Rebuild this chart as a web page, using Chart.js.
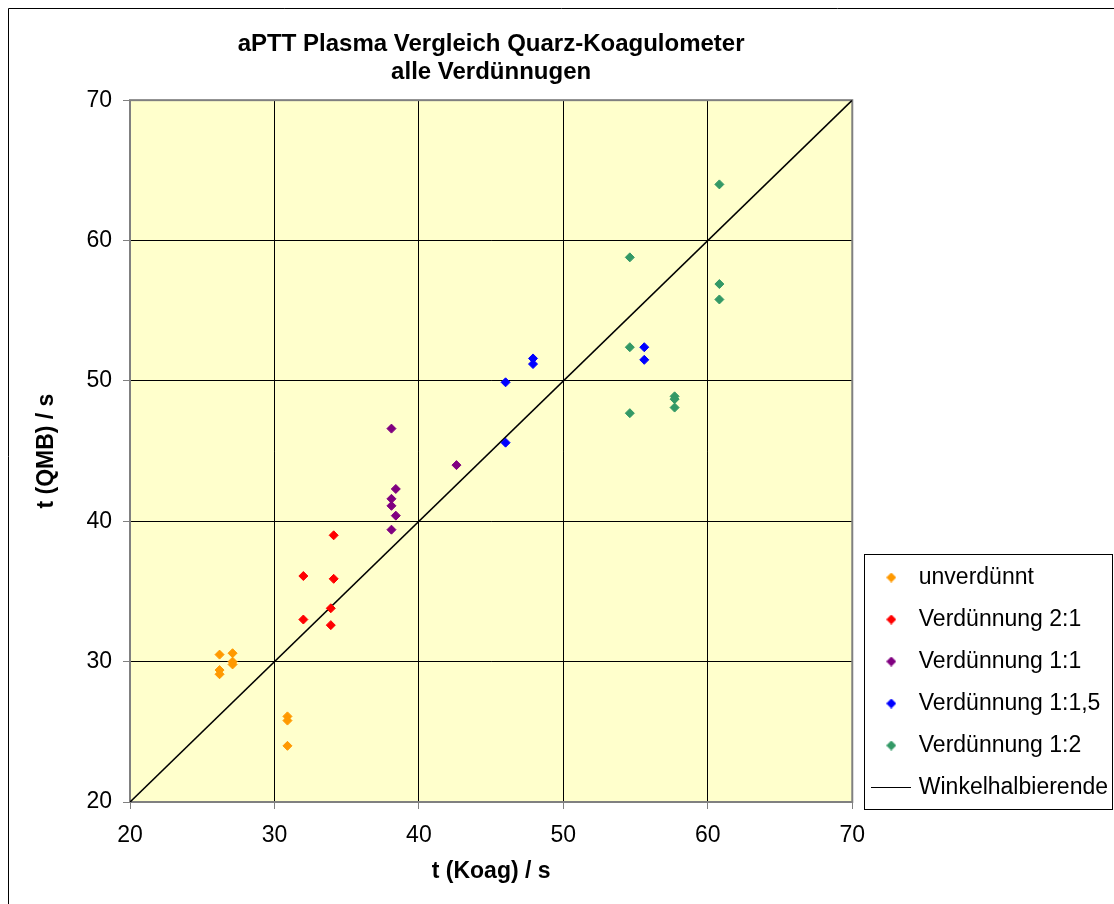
<!DOCTYPE html>
<html>

<head>
    <meta charset="utf-8">
    <title>aPTT Plasma Vergleich</title>
    <!-- Chart JS -->
    <script src="https://cdn.jsdelivr.net/npm/chart.js@4.4.1/dist/chart.umd.min.js"></script>
    <style>
        body { margin: 0; background: #ffffff; }
        canvas { display: block; }
    </style>
</head>

<body>
    <canvas id="myChart" width="1114" height="904"></canvas>
    <script>

        var chartTitle = ['aPTT Plasma Vergleich Quarz-Koagulometer', 'alle Verdünnugen'];
        var xTitle = 't (Koag) / s';
        var yTitle = 't (QMB) / s';

        // unverdünnt
        var unvX = [26.2, 27.1, 27.1, 27.1, 26.2, 26.2, 30.9, 30.9, 30.9];
        var unvY = [30.5, 30.6, 30.0, 29.8, 29.4, 29.1, 26.1, 25.8, 24.0];
        // Verdünnung 2:1
        var v21X = [34.1, 32.0, 34.1, 33.9, 32.0, 33.9];
        var v21Y = [39.0, 36.1, 35.9, 33.8, 33.0, 32.6];
        // Verdünnung 1:1
        var v11X = [38.1, 38.4, 38.1, 38.1, 38.4, 38.1, 42.6];
        var v11Y = [46.6, 42.3, 41.6, 41.1, 40.4, 39.4, 44.0];
        // Verdünnung 1:1,5
        var v115X = [46.0, 47.9, 47.9, 46.0, 55.6, 55.6];
        var v115Y = [49.9, 51.6, 51.2, 45.6, 52.4, 51.5];
        // Verdünnung 1:2
        var v12X = [54.6, 54.6, 54.6, 57.7, 57.7, 57.7, 60.8, 60.8, 60.8];
        var v12Y = [58.8, 52.4, 47.7, 48.9, 48.7, 48.1, 64.0, 56.9, 55.8];
        // Winkelhalbierende
        var diagX = [20, 70];
        var diagY = [20, 70];

        var names = ['unverdünnt', 'Verdünnung 2:1', 'Verdünnung 1:1', 'Verdünnung 1:1,5', 'Verdünnung 1:2', 'Winkelhalbierende'];
        var colors = ['#ff9900', '#ff0000', '#800080', '#0000ff', '#339966', '#000000'];

        var fontName = "'Liberation Sans', Arial, sans-serif";

        function toPoints(xs, ys) {
            var pts = [];
            for (var i = 0; i < xs.length; i++) {
                pts.push({ x: xs[i], y: ys[i] });
            }
            return pts;
        }

        // small legend markers
        function diamondIcon(color) {
            var c = document.createElement('canvas');
            c.width = 10; c.height = 10;
            var g = c.getContext('2d');
            g.fillStyle = color;
            g.beginPath();
            g.moveTo(5, 0); g.lineTo(10, 5); g.lineTo(5, 10); g.lineTo(0, 5);
            g.closePath();
            g.fill();
            return c;
        }
        function lineIcon() {
            var c = document.createElement('canvas');
            c.width = 40; c.height = 1;
            var g = c.getContext('2d');
            g.fillStyle = '#000';
            g.fillRect(0, 0, 40, 1);
            return c;
        }

        // legend is full height, move it up so it sits beside the lower plot
        var legendShiftX = 4;
        var legendShiftY = -86;

        var decor = {
            id: 'decor',
            afterLayout: function (chart) {
                var lg = chart.legend;
                lg.left += legendShiftX; lg.right += legendShiftX;
                lg.top += legendShiftY; lg.bottom += legendShiftY;
            },
            beforeDraw: function (chart) {
                var ctx = chart.ctx, a = chart.chartArea;
                ctx.save();
                ctx.fillStyle = '#ffffcc';
                ctx.fillRect(a.left, a.top, a.right - a.left, a.bottom - a.top);
                // outer frame
                ctx.strokeStyle = '#000';
                ctx.lineWidth = 1;
                ctx.beginPath();
                ctx.moveTo(8.5, chart.height); ctx.lineTo(8.5, 8.5); ctx.lineTo(chart.width, 8.5);
                ctx.stroke();
                ctx.restore();
            },
            beforeDatasetsDraw: function (chart) {
                var ctx = chart.ctx, a = chart.chartArea;
                ctx.save();
                ctx.strokeStyle = '#808080';
                ctx.lineWidth = 2;
                ctx.strokeRect(a.left, a.top, a.right - a.left, a.bottom - a.top);
                ctx.restore();
            },
            afterDraw: function (chart) {
                var boxes = chart.legend.legendHitBoxes;
                if (!boxes || !boxes.length) return;
                var first = boxes[0], last = boxes[boxes.length - 1];
                var ctx = chart.ctx;
                ctx.save();
                ctx.strokeStyle = '#000';
                ctx.lineWidth = 1;
                var l = Math.round(first.left - 11) + 0.5;
                var t = Math.round(first.top - 12) + 0.5;
                var r = Math.round(first.left + 237) + 0.5;
                var b = Math.round(last.top + last.height + 10) + 0.5;
                ctx.strokeRect(l, t, r - l, b - t);
                ctx.restore();
            }
        };

        var datasets = [];
        var xsList = [unvX, v21X, v11X, v115X, v12X];
        var ysList = [unvY, v21Y, v11Y, v115Y, v12Y];
        for (var k = 0; k < 5; k++) {
            datasets.push({
                type: 'scatter',
                label: names[k],
                data: toPoints(xsList[k], ysList[k]),
                pointStyle: 'rectRot',
                pointRadius: 4.5,
                pointHoverRadius: 5,
                borderWidth: 1,
                borderColor: colors[k],
                backgroundColor: colors[k]
            });
        }
        datasets.push({
            type: 'line',
            label: names[5],
            data: toPoints(diagX, diagY),
            borderColor: '#000000',
            backgroundColor: '#000000',
            borderWidth: 1.6,
            pointRadius: 0,
            fill: false
        });

        var legendIcons = [];
        for (var k = 0; k < 5; k++) legendIcons.push(diamondIcon(colors[k]));
        legendIcons.push(lineIcon());

        var ctx = document.getElementById('myChart').getContext('2d');
        var chart = new Chart(ctx, {
            type: 'scatter',
            data: { datasets: datasets },
            plugins: [decor],
            options: {
                responsive: false,
                animation: false,
                layout: { padding: 0 },
                plugins: {
                    tooltip: { enabled: false },
                    title: {
                        display: true,
                        text: chartTitle,
                        fullSize: false,
                        color: '#000',
                        font: { family: fontName, size: 24, weight: 'bold', lineHeight: 1.17 },
                        padding: { top: 30, bottom: 14 }
                    },
                    legend: {
                        position: 'right',
                        align: 'end',
                        labels: {
                            usePointStyle: true,
                            pointStyleWidth: 32,
                            padding: 19,
                            color: '#000',
                            font: { family: fontName, size: 23 },
                            generateLabels: function (ch) {
                                return ch.data.datasets.map(function (ds, i) {
                                    return {
                                        text: ds.label,
                                        pointStyle: legendIcons[i],
                                        fillStyle: colors[i],
                                        strokeStyle: colors[i],
                                        lineWidth: 0,
                                        hidden: false,
                                        datasetIndex: i
                                    };
                                });
                            }
                        }
                    }
                },
                scales: {
                    x: {
                        type: 'linear',
                        min: 20,
                        max: 70,
                        afterFit: function (s) { s.height = 102; },
                        ticks: { stepSize: 10, padding: 13, color: '#000', font: { family: fontName, size: 23 } },
                        grid: { color: '#000', lineWidth: 1, tickLength: 7, tickColor: '#808080' },
                        border: { display: false },
                        title: {
                            display: true, text: xTitle, color: '#000',
                            font: { family: fontName, size: 23, weight: 'bold', lineHeight: 1.2 },
                            padding: { top: 0, bottom: 19 }
                        }
                    },
                    y: {
                        type: 'linear',
                        min: 20,
                        max: 70,
                        afterFit: function (s) { s.width = 130; },
                        ticks: { stepSize: 10, padding: 11, color: '#000', font: { family: fontName, size: 23 } },
                        grid: { color: '#000', lineWidth: 1, tickLength: 7, tickColor: '#808080' },
                        border: { display: false },
                        title: {
                            display: true, text: yTitle, color: '#000',
                            font: { family: fontName, size: 23, weight: 'bold', lineHeight: 1.2 },
                            padding: { top: 33, bottom: 0 }
                        }
                    }
                }
            }
        });
    </script>
</body>

</html>
